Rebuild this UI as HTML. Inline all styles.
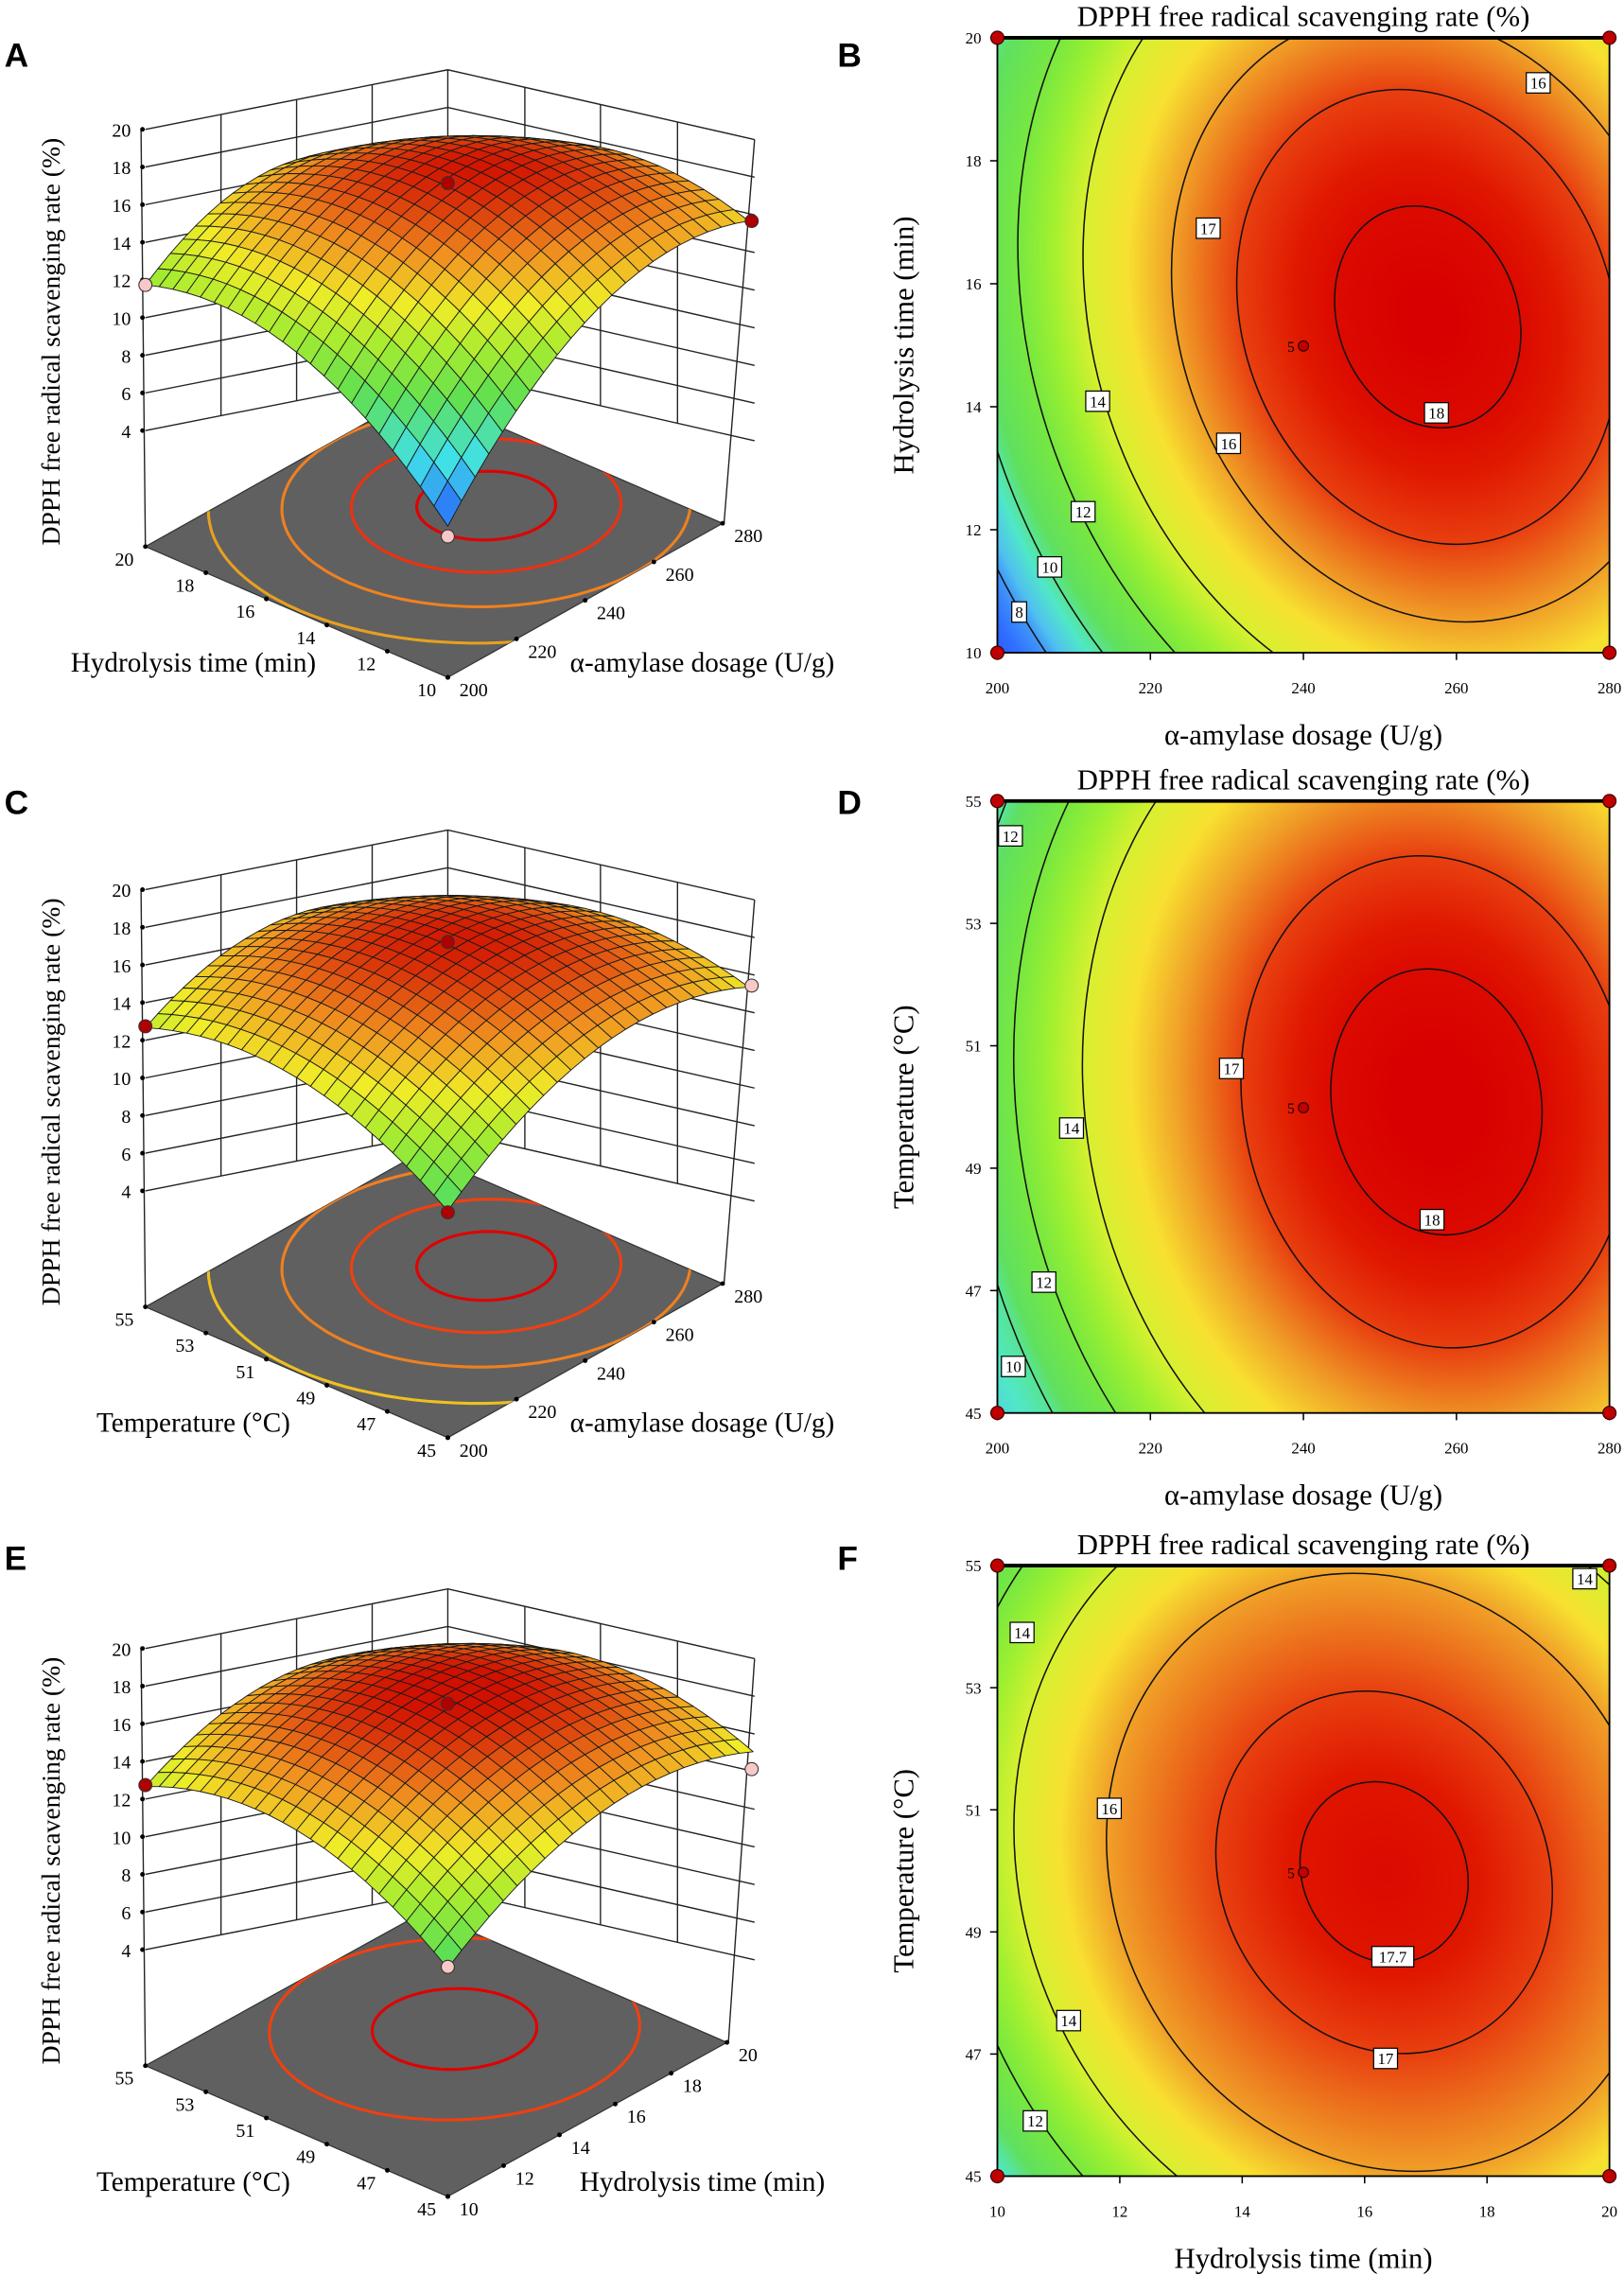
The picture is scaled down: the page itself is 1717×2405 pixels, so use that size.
<!DOCTYPE html>
<html><head><meta charset="utf-8"><style>
html,body{margin:0;padding:0;background:#fff;overflow:hidden;width:1717px;height:2405px}
#wrap{position:relative;width:1717px;height:2405px;overflow:hidden}
canvas,svg{position:absolute;left:0;top:0;display:block}
svg{overflow:hidden}
text{font-family:"Liberation Serif",serif}
</style></head><body><div id="wrap">
<canvas id="cv" width="1717" height="2405"></canvas>
<svg id="sv" width="1717" height="2405" viewBox="0 0 1117 1565" preserveAspectRatio="none" xmlns="http://www.w3.org/2000/svg">
<g font-weight="bold" font-size="23">
<text x="3" y="46" style="font-family:'Liberation Sans',sans-serif">A</text>
<text x="576" y="46" style="font-family:'Liberation Sans',sans-serif">B</text>
<text x="3" y="560" style="font-family:'Liberation Sans',sans-serif">C</text>
<text x="576" y="560" style="font-family:'Liberation Sans',sans-serif">D</text>
<text x="3" y="1080" style="font-family:'Liberation Sans',sans-serif">E</text>
<text x="576" y="1080" style="font-family:'Liberation Sans',sans-serif">F</text>
</g>
</svg>
</div>
<script>
const S=1717/1117, NS="http://www.w3.org/2000/svg";
const sv=document.getElementById('sv');
function el(tag,attrs,parent,txt){const e=document.createElementNS(NS,tag);for(const k in attrs)e.setAttribute(k,attrs[k]);if(txt!==undefined)e.textContent=txt;(parent||sv).appendChild(e);return e;}
function hex(c){return [parseInt(c.substr(1,2),16),parseInt(c.substr(3,2),16),parseInt(c.substr(5,2),16)];}
function interp(stops,t){
 if(t<=stops[0][0])return hex(stops[0][1]);
 for(let i=1;i<stops.length;i++){if(t<=stops[i][0]){const a=stops[i-1],b=stops[i];const f=(t-a[0])/(b[0]-a[0]);const A=hex(a[1]),B=hex(b[1]);return [0,1,2].map(k=>Math.round(A[k]+(B[k]-A[k])*f));}}
 return hex(stops[stops.length-1][1]);}
const fcol=[[6.5,'#2040ff'],[7.5,'#3070ff'],[8.5,'#50c0f0'],[9.5,'#50e8c8'],[10.5,'#60e060'],[12,'#78e840'],[13,'#a0f030'],[14,'#d8f030'],[15,'#f8e030'],[16,'#f0a028'],[17,'#e84010'],[17.6,'#e01800'],[18.3,'#d80000']];
const scol=[[0,'#2040ff'],[0.25,'#40e0e8'],[0.45,'#60e050'],[0.6,'#a8ec30'],[0.72,'#f0ec28'],[0.85,'#f09020'],[1,'#d01000']];
const ctx=document.getElementById('cv').getContext('2d');

function contour(p){
 const {x0,y0,x1,y1,cx,cy,rx,ry,rot,tab}=p;
 const a=rot*Math.PI/180,ca=Math.cos(a),sa=Math.sin(a);
 function fr(r){for(let i=1;i<tab.length;i++){if(r<=tab[i][0]){const A=tab[i-1],B=tab[i];return A[1]+(B[1]-A[1])*(r-A[0])/(B[0]-A[0]);}}const A=tab[tab.length-2],B=tab[tab.length-1];return B[1]+(B[1]-A[1])/(B[0]-A[0])*(r-B[0]);}
 function rOf(L){for(let i=1;i<tab.length;i++){if(L>=tab[i][1]){const A=tab[i-1],B=tab[i];return A[0]+(B[0]-A[0])*(A[1]-L)/(A[1]-B[1]);}}return null;}
 const X0=Math.round(x0*S),Y0=Math.round(y0*S),X1=Math.round(x1*S),Y1=Math.round(y1*S);
 const img=ctx.createImageData(X1-X0,Y1-Y0);const w=X1-X0;
 for(let j=0;j<Y1-Y0;j++)for(let i=0;i<w;i++){const x=(X0+i)/S,y=(Y0+j)/S;const dx=x-cx,dy=y-cy;const xp=dx*ca+dy*sa,yp=-dx*sa+dy*ca;const r=Math.sqrt((xp/rx)**2+(yp/ry)**2);const c=interp(fcol,fr(r));const k=(j*w+i)*4;img.data[k]=c[0];img.data[k+1]=c[1];img.data[k+2]=c[2];img.data[k+3]=255;}
 ctx.putImageData(img,X0,Y0);
 const id='cl'+Math.round(y0);
 const cp=el('clipPath',{id});el('rect',{x:x0,y:y0,width:x1-x0,height:y1-y0},cp);
 const g=el('g',{'clip-path':`url(#${id})`});
 p.levels.forEach(L=>{const r=rOf(L);if(r)el('ellipse',{cx,cy,rx:rx*r,ry:ry*r,transform:`rotate(${rot} ${cx} ${cy})`,fill:'none',stroke:'#111','stroke-width':1},g);});
 el('rect',{x:x0,y:y0,width:x1-x0,height:y1-y0,fill:'none',stroke:'#000','stroke-width':1.2});
 el('line',{x1:x0,y1:y0,x2:x1,y2:y0,stroke:'#000','stroke-width':2.5});
 p.labels.forEach(l=>{const w=l[2].length*6.2+4;el('rect',{x:l[0]-w/2,y:l[1]-7,width:w,height:14,fill:'#fff',stroke:'#000','stroke-width':0.8});el('text',{x:l[0],y:l[1]+4,'font-size':11,'text-anchor':'middle'},sv,l[2]);});
 p.yt.forEach((t,i)=>{const y=y1-(y1-y0)*i/(p.yt.length-1);el('line',{x1:x0-5,y1:y,x2:x0,y2:y,stroke:'#000'});el('text',{x:x0-11,y:y+4,'font-size':11,'text-anchor':'end'},sv,t);});
 p.xt.forEach((t,i)=>{const x=x0+(x1-x0)*i/(p.xt.length-1);el('line',{x1:x,y1:y1,x2:x,y2:y1+5,stroke:'#000'});el('text',{x:x,y:y1+28,'font-size':11,'text-anchor':'middle'},sv,t);});
 [[x0,y0],[x1,y0],[x0,y1],[x1,y1]].forEach(q=>el('circle',{cx:q[0],cy:q[1],r:4.5,fill:'#c00000',stroke:'#400','stroke-width':0.8}));
 const mx=(x0+x1)/2,my=p.dot;
 el('circle',{cx:mx,cy:my,r:3.5,fill:'#c00000',stroke:'#300','stroke-width':0.8});
 el('text',{x:mx-6,y:my+4,'font-size':10,'text-anchor':'end'},sv,'5');
 el('text',{x:mx,y:y0-8,'font-size':20,'text-anchor':'middle'},sv,'DPPH free radical scavenging rate (%)');
 el('text',{x:mx,y:y1+63,'font-size':20,'text-anchor':'middle'},sv,p.xl);
 el('text',{x:0,y:0,'font-size':20,'text-anchor':'middle',transform:`translate(628 ${(y0+y1)/2}) rotate(-90)`},sv,p.yl);
}
contour({x0:686,y0:26,x1:1107,y1:449,cx:982,cy:218,rx:62,ry:78,rot:-20,dot:238,
 tab:[[0,18.4],[1,18],[2.05,17],[2.75,16],[3.7,14],[4.4,12],[5,10],[5.5,8],[6,7]],
 levels:[18,17,16,14,12,10,8],
 labels:[[988,284,'18'],[845,305,'16'],[831,157,'17'],[755,276,'14'],[745,352,'12'],[722,390,'10'],[701,421,'8'],[1058,57,'16']],
 yt:['10','12','14','16','18','20'],xt:['200','220','240','260','280'],xl:'α-amylase dosage (U/g)',yl:'Hydrolysis time (min)'});
contour({x0:686,y0:551,x1:1107,y1:972,cx:988,cy:758,rx:72,ry:92,rot:-10,dot:762,
 tab:[[0,18.5],[1,18],[1.85,17],[2.45,16],[3.35,14],[4.0,12],[4.5,10],[5,9]],
 levels:[18,17,14,12,10],
 labels:[[985,839,'18'],[847,735,'17'],[737,776,'14'],[718,882,'12'],[697,940,'10'],[695,575,'12']],
 yt:['45','47','49','51','53','55'],xt:['200','220','240','260','280'],xl:'α-amylase dosage (U/g)',yl:'Temperature (°C)'});
contour({x0:686,y0:1077,x1:1107,y1:1497,cx:952,cy:1288,rx:56,ry:64,rot:-28,dot:1288,
 tab:[[0,18.0],[1,17.7],[2,17],[3.3,16],[4.4,14],[5.2,12],[5.8,10]],
 levels:[17.7,17,16,14,12],
 labels:[[958,1346,'17.7'],[953,1416,'17'],[763,1244,'16'],[703,1123,'14'],[735,1390,'14'],[1090,1086,'14'],[712,1459,'12']],
 yt:['45','47','49','51','53','55'],xt:['10','12','14','16','18','20'],xl:'Hydrolysis time (min)',yl:'Temperature (°C)'});

function panel3d(p){
 const oy=p.oy;const B=[308,466+oy],R=[497+p.rdx,360+oy],L=[100,376+oy];
 const T=[R[0]+L[0]-B[0],R[1]+L[1]-B[1]];
 const fl=(u,v)=>[B[0]+u*(R[0]-B[0])+v*(L[0]-B[0]),B[1]+u*(R[1]-B[1])+v*(L[1]-B[1])];
 const zy=z=>89+oy+(20-z)*12.95;
 const g=el('g',{stroke:'#222','stroke-width':0.9,fill:'none'});
 for(let z=4;z<=20;z+=2){const y=zy(z);el('polyline',{points:`100,${y} 308,${y-41} 519,${y+7}`},g);}
 [152,204,256].forEach(x=>{const d=41*(x-100)/208;el('line',{x1:x,y1:zy(20)-d,x2:x,y2:zy(4)-d},g);});
 [361,413,466].forEach(x=>{const d=-41+48*(x-308)/211;el('line',{x1:x,y1:zy(20)+d,x2:x,y2:zy(4)+d},g);});
 el('line',{x1:97,y1:zy(20),x2:100,y2:L[1]},g);
 el('line',{x1:308,y1:zy(20)-41,x2:308,y2:zy(4)-41},g);
 el('line',{x1:519,y1:zy(20)+7,x2:R[0]+1,y2:R[1]},g);
 for(let z=4;z<=20;z+=2){el('circle',{cx:98,cy:zy(z),r:1.6,fill:'#000'});el('text',{x:90,y:zy(z)+5,'font-size':13,'text-anchor':'end'},sv,String(z));}
 el('polygon',{points:[B,R,T,L].map(q=>q.join(',')).join(' '),fill:'#606060',stroke:'#333','stroke-width':0.8});
 const cl='fc'+oy;const cp=el('clipPath',{id:cl});el('polygon',{points:[B,R,T,L].map(q=>q.join(',')).join(' ')},cp);
 const fg=el('g',{'clip-path':`url(#${cl})`,fill:'none','stroke-width':2});
 p.rings.forEach(r=>{let pts=[];for(let k=0;k<=120;k++){const a=k/120*2*Math.PI;const q=fl(p.uc+r[0]*Math.cos(a),p.vc+r[0]*Math.sin(a));pts.push(q.map(n=>n.toFixed(1)).join(','));}el('polyline',{points:pts.join(' '),stroke:r[1]},fg);});
 p.lt.forEach((t,i)=>{const q=fl(0,1-i/(p.lt.length-1));el('circle',{cx:q[0],cy:q[1],r:1.6,fill:'#000'});el('text',{x:q[0]-8,y:q[1]+13,'font-size':13,'text-anchor':'end'},sv,t);});
 p.rt.forEach((t,i)=>{const q=fl(i/(p.rt.length-1),0);el('circle',{cx:q[0],cy:q[1],r:1.6,fill:'#000'});el('text',{x:q[0]+8,y:q[1]+13,'font-size':13,'text-anchor':'start'},sv,t);});
 el('text',{x:133,y:462+oy,'font-size':19,'text-anchor':'middle'},sv,p.ll);
 el('text',{x:483,y:462+oy,'font-size':19,'text-anchor':'middle'},sv,p.rl);
 el('text',{x:0,y:0,'font-size':18,'text-anchor':'middle',transform:`translate(41 ${235+oy}) rotate(-90)`},sv,'DPPH free radical scavenging rate (%)');
 const [h00,h01,h10,h11,c]=p.h;
 const Bq=(4*c-(h00+h01+h10+h11))/4,a1=(h10+h11-h00-h01)/4,a2=(h01+h11-h00-h10)/4,cxy=(h00+h11-h01-h10)/4;
 const b1=Bq*p.split,b2=Bq-b1;
 const H=(u,v)=>{const x=2*u-1,y=2*v-1;return c+a1*x+a2*y-b1*x*x-b2*y*y+cxy*x*y;};
 const P=(u,v)=>{const f=fl(u,v);return [f[0]+18*u*(1-v),f[1]-H(u,v)];};
 const N=22,quads=[];
 for(let i=0;i<N;i++)for(let j=0;j<N;j++)quads.push([i,j]);
 quads.sort((A,Bb)=>(Bb[0]+Bb[1])-(A[0]+A[1]));
 const sg=el('g',{stroke:'#1a1a1a','stroke-width':0.6,'stroke-linejoin':'round'});
 quads.forEach(([i,j])=>{const u0=i/N,u1=(i+1)/N,v0=j/N,v1=(j+1)/N;const pts=[P(u0,v0),P(u1,v0),P(u1,v1),P(u0,v1)];const h=H((u0+u1)/2,(v0+v1)/2);const col=interp(scol,(h-100)/(245-100));el('polygon',{points:pts.map(q=>q[0].toFixed(1)+','+q[1].toFixed(1)).join(' '),fill:`rgb(${col})`},sg);});
 p.dots.forEach(d=>el('circle',{cx:d[0],cy:d[1]+oy,r:4.5,fill:d[2],stroke:'#333','stroke-width':0.7}));
}
const RED='#b00000',PINK='#f8c8c8';
panel3d({oy:0,rdx:0,h:[104,180,208,150,242],split:0.55,uc:0.69,vc:0.5,
 rings:[[0.17,'#e00000'],[0.33,'#f03010'],[0.5,'#f08020'],[0.68,'#e8a020'],[0.86,'#d8f020'],[1.02,'#90e840'],[1.16,'#60e8a0'],[1.28,'#50a0f0']],
 lt:['20','18','16','14','12','10'],rt:['200','220','240','260','280'],ll:'Hydrolysis time (min)',rl:'α-amylase dosage (U/g)',
 dots:[[308,126,RED],[517,152,RED],[100,196,PINK],[308,369,PINK]]});
panel3d({oy:523,rdx:0,h:[156,192,204,165,243],split:0.55,uc:0.69,vc:0.5,
 rings:[[0.17,'#e00000'],[0.33,'#f04010'],[0.5,'#f08020'],[0.68,'#f0c020'],[0.86,'#e0f020'],[1.02,'#a8e830'],[1.18,'#60e060']],
 lt:['55','53','51','49','47','45'],rt:['200','220','240','260','280'],ll:'Temperature (°C)',rl:'α-amylase dosage (U/g)',
 dots:[[308,125,RED],[517,155,PINK],[100,183,RED],[308,311,RED]]});
panel3d({oy:1045,rdx:3,h:[157,192,200,175,246],split:0.5,uc:0.62,vc:0.55,
 rings:[[0.2,'#e00000'],[0.45,'#f04010'],[0.95,'#e0f020'],[1.2,'#80e040']],
 lt:['55','53','51','49','47','45'],rt:['10','12','14','16','18','20'],ll:'Temperature (°C)',rl:'Hydrolysis time (min)',
 dots:[[308,127,RED],[517,172,PINK],[100,183,RED],[308,308,PINK]]});
</script>
</body></html>
